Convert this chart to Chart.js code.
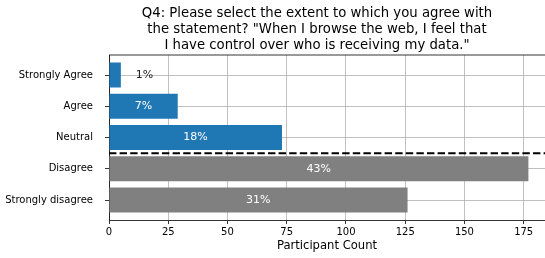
<!DOCTYPE html>
<html>
<head>
<meta charset="utf-8">
<script src="https://cdn.jsdelivr.net/npm/chart.js@4"></script>
<style>
html, body { margin: 0; padding: 0; background: #fff; }
#wrap { width: 545px; height: 258px; }
</style>
</head>
<body>
<div id="wrap"><canvas id="chart"></canvas></div>
<script>
// data
var categories = ['Strongly Agree', 'Agree', 'Neutral', 'Disagree', 'Strongly disagree'];
var counts = [5, 29, 73, 177, 126];
var percentLabels = ['1%', '7%', '18%', '43%', '31%'];
var barColors = ['#1f77b4', '#1f77b4', '#1f77b4', '#808080', '#808080'];
var xTicks = [0, 25, 50, 75, 100, 125, 150, 175];
var dividerAfter = 2;   // dashed line between Neutral and Disagree
var titleLines = [
    'Q4: Please select the extent to which you agree with',
    'the statement? "When I browse the web, I feel that',
    'I have control over who is receiving my data."'
];

Chart.defaults.font.family = '"DejaVu Sans", sans-serif';
Chart.defaults.color = '#000';

var extras = {
    id: 'extras',
    afterDraw: function (chart) {
        var ctx = chart.ctx, area = chart.chartArea;
        var xs = chart.scales.x, ys = chart.scales.y;
        ctx.save();

        // title
        ctx.fillStyle = '#000';
        ctx.font = '13.25px "DejaVu Sans"';
        ctx.textAlign = 'center';
        ctx.textBaseline = 'middle';
        titleLines.forEach(function (t, i) {
            ctx.fillText(t, 317, 14 + i * 15.6);
        });

        // top spine
        ctx.strokeStyle = '#000';
        ctx.lineWidth = 0.8;
        ctx.beginPath();
        ctx.moveTo(area.left, area.top);
        ctx.lineTo(area.right, area.top);
        ctx.stroke();

        // percent labels
        ctx.font = '11px "DejaVu Sans"';
        counts.forEach(function (v, i) {
            var inside = v >= 10;
            var xv = inside ? v / 2 : 15;
            ctx.fillStyle = inside ? '#fff' : '#222';
            ctx.fillText(percentLabels[i], xs.getPixelForValue(xv), ys.getPixelForValue(i));
        });

        // dashed divider
        var y = ys.getPixelForValue(dividerAfter + 0.5);
        ctx.strokeStyle = '#000';
        ctx.lineWidth = 2;
        ctx.setLineDash([7.4, 3.2]);
        ctx.beginPath();
        ctx.moveTo(area.left, y);
        ctx.lineTo(area.right, y);
        ctx.stroke();
        ctx.restore();
    }
};

var ctx = document.getElementById('chart').getContext('2d');
var chart = new Chart(ctx, {
    type: 'bar',
    data: {
        datasets: [{
            data: counts.map(function (v, i) { return { x: v, y: i }; }),
            backgroundColor: barColors,
            borderWidth: 0,
            barPercentage: 0.8,
            categoryPercentage: 1
        }]
    },
    options: {
        indexAxis: 'y',
        responsive: true,
        maintainAspectRatio: false,
        animation: false,
        layout: { padding: { top: 55, left: 0, right: 0, bottom: 0 } },
        plugins: {
            legend: { display: false },
            tooltip: { enabled: false }
        },
        scales: {
            x: {
                type: 'linear',
                min: 0,
                max: 184,
                z: 1,
                afterBuildTicks: function (s) {
                    s.ticks = xTicks.map(function (v) { return { value: v }; });
                },
                grid: { color: '#b0b0b0', lineWidth: 0.8, tickColor: '#000', tickLength: 4 },
                border: { color: '#000', width: 0.8 },
                ticks: { font: { size: 10 }, padding: 2, autoSkip: false, maxRotation: 0 },
                title: { display: true, text: 'Participant Count', font: { size: 11.6 }, padding: { top: 2, bottom: 5 } },
                afterFit: function (s) { s.height = 38; }
            },
            y: {
                type: 'linear',
                reverse: true,
                offset: false,
                min: -0.64,
                max: 4.64,
                z: 1,
                afterBuildTicks: function (s) {
                    s.ticks = categories.map(function (c, i) { return { value: i }; });
                },
                grid: { offset: false, color: '#b0b0b0', lineWidth: 0.8, tickColor: '#000', tickLength: 4 },
                border: { color: '#000', width: 0.8 },
                ticks: {
                    font: { size: 10 },
                    padding: 12,
                    autoSkip: false,
                    callback: function (v) { return categories[v]; }
                },
                afterFit: function (s) { s.width = 109; }
            }
        }
    },
    plugins: [extras]
});
</script>
</body>
</html>
